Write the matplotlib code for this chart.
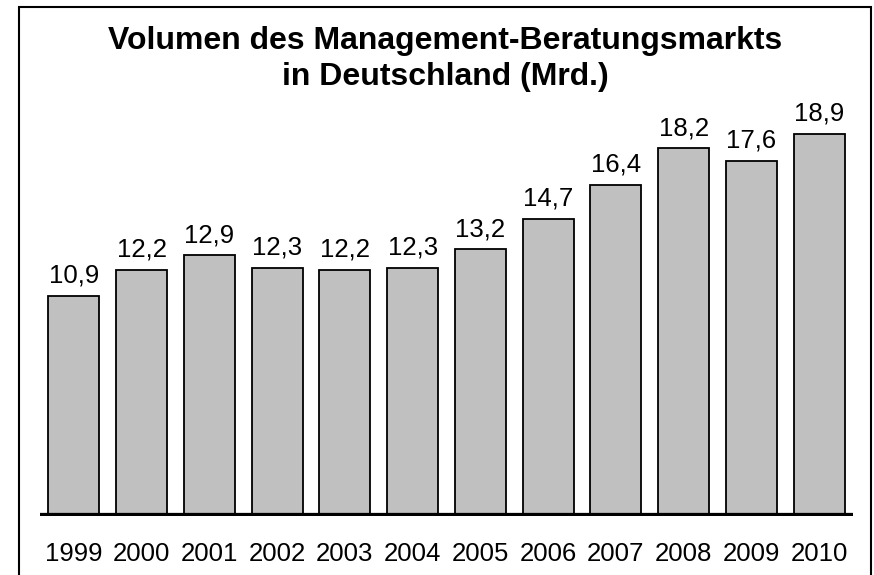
import matplotlib.pyplot as plt
from matplotlib.patches import Rectangle

plt.rcParams['font.family'] = ['Liberation Sans', 'DejaVu Sans']

years = ['1999', '2000', '2001', '2002', '2003', '2004',
         '2005', '2006', '2007', '2008', '2009', '2010']
volumes = [10.9, 12.2, 12.9, 12.3, 12.2, 12.3, 13.2, 14.7, 16.4, 18.2, 17.6, 18.9]
value_labels = ['10,9', '12,2', '12,9', '12,3', '12,2', '12,3',
                '13,2', '14,7', '16,4', '18,2', '17,6', '18,9']

fig = plt.figure(figsize=(8.74, 5.75), dpi=100)
ax = fig.add_axes([40 / 874, 59 / 575, 813 / 874, 416 / 575])

x = range(len(years))
bars = ax.bar(x, volumes, width=0.75, color='#c0c0c0', edgecolor='black', linewidth=1.3, zorder=2)
ax.axhline(0, color='black', lw=4.5, zorder=3)

for b, lab in zip(bars, value_labels):
    ax.annotate(lab, (b.get_x() + b.get_width() / 2, b.get_height()),
                xytext=(0, 6), textcoords='offset points',
                ha='center', va='bottom', fontsize=18.5)

ax.set_xlim(-0.5, 11.5)
ax.set_ylim(0, 20.6)
ax.set_xticks(list(x))
ax.set_xticklabels(years, fontsize=18.5)
ax.tick_params(axis='x', length=0, pad=19)
ax.set_yticks([])
for s in ax.spines.values():
    s.set_visible(False)

fig.text(445 / 874, 1 - 59 / 575,
         'Volumen des Management-Beratungsmarkts\nin Deutschland (Mrd.)',
         ha='center', va='center', fontsize=23, fontweight='bold', linespacing=1.3)

# frame around the chart (bottom edge runs off the picture)
fig.patches.append(Rectangle((19 / 874, -0.1), 852 / 874, 0.1 + 568 / 575,
                             transform=fig.transFigure, fill=False,
                             edgecolor='black', linewidth=1.5))

fig.savefig('out.png', dpi=100)
